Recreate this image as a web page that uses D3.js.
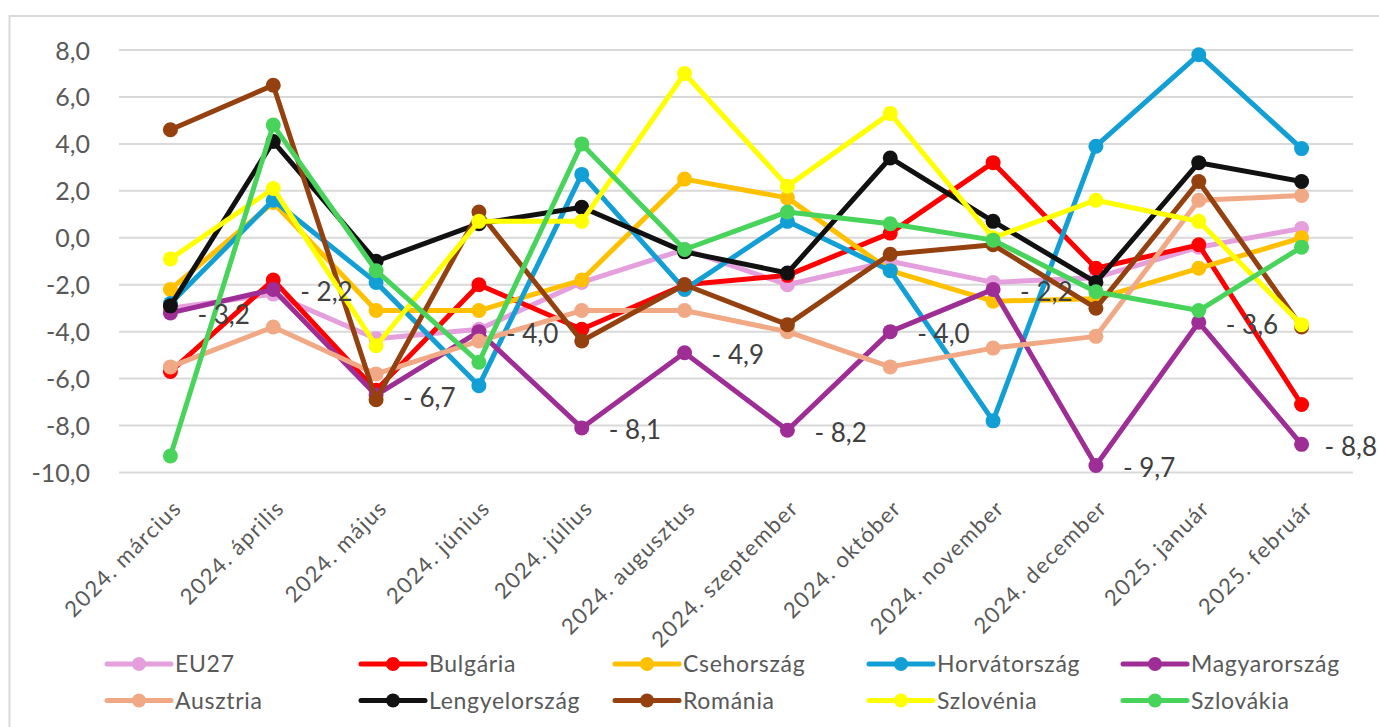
<!DOCTYPE html>
<html><head><meta charset="utf-8">
<script src="https://cdn.jsdelivr.net/npm/d3@7"></script>
<style>
html,body{margin:0;padding:0;background:#fff;}
svg{display:block;font-family:Lato,"Noto Sans",sans-serif;}
</style></head>
<body><svg id="chart" width="1379" height="727"></svg>
<script>
const categories = ["2024. március","2024. április","2024. május","2024. június","2024. július","2024. augusztus","2024. szeptember","2024. október","2024. november","2024. december","2025. január","2025. február"];
const yTicks = [-10,-8,-6,-4,-2,0,2,4,6,8];

const eu27 =        [-3.0,-2.4,-4.3,-3.9,-1.9,-0.5,-2.0,-1.0,-1.9,-1.7,-0.4, 0.4];
const bulgaria =    [-5.7,-1.8,-6.5,-2.0,-3.9,-2.0,-1.6, 0.2, 3.2,-1.3,-0.3,-7.1];
const csehorszag =  [-2.2, 1.5,-3.1,-3.1,-1.8, 2.5, 1.7,-1.4,-2.7,-2.6,-1.3, 0.0];
const horvatorszag =[-2.8, 1.6,-1.9,-6.3, 2.7,-2.2, 0.7,-1.4,-7.8, 3.9, 7.8, 3.8];
const magyarorszag =[-3.2,-2.2,-6.7,-4.0,-8.1,-4.9,-8.2,-4.0,-2.2,-9.7,-3.6,-8.8];
const ausztria =    [-5.5,-3.8,-5.8,-4.4,-3.1,-3.1,-4.0,-5.5,-4.7,-4.2, 1.6, 1.8];
const lengyelorszag=[-2.9, 4.1,-1.0, 0.6, 1.3,-0.6,-1.5, 3.4, 0.7,-1.9, 3.2, 2.4];
const romania =     [ 4.6, 6.5,-6.9, 1.1,-4.4,-2.0,-3.7,-0.7,-0.3,-3.0, 2.4,-3.8];
const szlovenia =   [-0.9, 2.1,-4.6, 0.7, 0.7, 7.0, 2.2, 5.3, 0.0, 1.6, 0.7,-3.7];
const szlovakia =   [-9.3, 4.8,-1.4,-5.3, 4.0,-0.5, 1.1, 0.6,-0.1,-2.3,-3.1,-0.4];

const seriesNames = ["EU27","Bulgária","Csehország","Horvátország","Magyarország","Ausztria","Lengyelország","Románia","Szlovénia","Szlovákia"];
const seriesValues = [eu27,bulgaria,csehorszag,horvatorszag,magyarorszag,ausztria,lengyelorszag,romania,szlovenia,szlovakia];
const seriesColors = ["#E49FDC","#FF0000","#FFC000","#129FD6","#9E2E95","#F1A985","#111111","#94410F","#FFFF00","#48D45B"];
const labeledSeries = "Magyarország";

const series = seriesNames.map((n,i)=>({name:n, values:seriesValues[i], color:seriesColors[i]}));

const svg = d3.select("#chart");
svg.append("rect").attr("width",1379).attr("height",727).attr("fill","#fff");
// chart border
svg.append("path").attr("d","M1379,16 H9.5 V727").attr("fill","none").attr("stroke","#D9D9D9").attr("stroke-width",2);

const plot = {left:119, right:1353, top:50, bottom:472.5};
const x = d3.scalePoint().domain(categories).range([plot.left, plot.right]).padding(0.5);
const y = d3.scaleLinear().domain([-10,8]).range([plot.bottom, plot.top]);

const fmt = v => d3.format(".1f")(v).replace(".",",").replace("−","-");

// gridlines
svg.append("g").selectAll("line").data(yTicks).join("line")
  .attr("x1",plot.left).attr("x2",plot.right)
  .attr("y1",d=>y(d)).attr("y2",d=>y(d))
  .attr("stroke","#D9D9D9").attr("stroke-width",2);

// y axis
const ya = svg.append("g").attr("transform","translate(90,0)")
  .call(d3.axisLeft(y).tickValues(yTicks).tickSize(0).tickPadding(0).tickFormat(fmt));
ya.select(".domain").remove();
ya.selectAll("text").attr("fill","#595959").style("font-size","25px").style("font-family","Lato").attr("dy","0.36em");

// x axis
const xa = svg.append("g").attr("transform",`translate(0,${plot.bottom})`)
  .call(d3.axisBottom(x).tickSize(0));
xa.select(".domain").remove();
xa.selectAll("text").attr("x",0).attr("y",0).attr("dy",0)
  .attr("transform","translate(12,37) rotate(-45)")
  .style("text-anchor","end").attr("fill","#595959")
  .style("font-size","22px").style("letter-spacing","1.4px").style("font-family","Lato");

// lines
const line = d3.line().x((d,i)=>x(categories[i])).y(d=>y(d));
const sg = svg.append("g").selectAll("g").data(series).join("g");
sg.append("path").attr("d",d=>line(d.values)).attr("fill","none")
  .attr("stroke",d=>d.color).attr("stroke-width",5).attr("stroke-linejoin","round").attr("stroke-linecap","round");
sg.selectAll("circle").data(d=>d.values.map((v,i)=>({v,i,c:d.color}))).join("circle")
  .attr("cx",d=>x(categories[d.i])).attr("cy",d=>y(d.v)).attr("r",7.5).attr("fill",d=>d.c);

// data labels
const lab = series.find(s=>s.name===labeledSeries);
svg.append("g").selectAll("text").data(lab.values).join("text")
  .attr("y",d=>y(d)+11.5)
  .text(d=>"- "+fmt(Math.abs(d)))
  .attr("fill","#404040").style("font-size","26px").style("font-family","Lato")
  .attr("x",function(d,i){
    const w = this.getComputedTextLength();
    return Math.min(x(categories[i])+27, 1377 - w);
  });

// legend
const legX = [107,361,615,869,1123];
const legY = [664,700.5];
const lg = svg.append("g").selectAll("g").data(series).join("g")
  .attr("transform",(d,i)=>`translate(${legX[i%5]},${legY[Math.floor(i/5)]})`);
lg.append("line").attr("x1",0).attr("x2",64).attr("stroke",d=>d.color).attr("stroke-width",5).attr("stroke-linecap","round");
lg.append("circle").attr("cx",32).attr("r",7).attr("fill",d=>d.color);
lg.append("text").attr("x",68).attr("dy","0.36em").text(d=>d.name)
  .attr("fill","#595959").style("font-size","23px").style("letter-spacing","0.7px").style("font-family","Lato");
</script></body></html>
